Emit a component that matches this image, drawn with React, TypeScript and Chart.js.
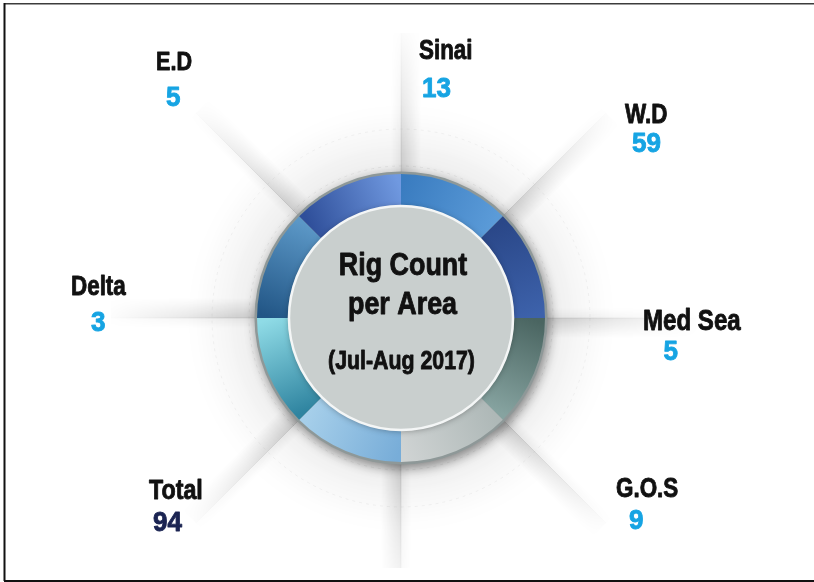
import React, { useEffect, useRef } from "react";
import { Chart, registerables } from "chart.js";

Chart.register(...registerables);

// ---- data ----
const areaNames = ["Sinai", "W.D", "Med Sea", "G.O.S", "Total", "Delta", "E.D"];
const rigCounts = [13, 59, 5, 9, 94, 3, 5];
const ringSliceWeights = [1, 1, 1, 1, 1, 1, 1, 1];
const centerTitleLines = ["Rig Count", "per Area", "(Jul-Aug 2017)"];

// ---- styles / layout ----
const sliceColorStart = ["#3a7cc0", "#2a4788", "#4a6561", "#aeb8b7", "#78add8", "#2f84a0", "#225686", "#2f4f9a"];
const sliceColorEnd = ["#5b9bd8", "#3d62ab", "#86a3a0", "#cfd3d3", "#a6cfea", "#8fdbe6", "#5b97c6", "#7099e0"];
// label offsets relative to ring centre: [nameDx, nameDy, valueDx, valueDy, nameSize]
const labelOffsets: number[][] = [
  [18, -259, 21, -221, 27],
  [224, -195.5, 231, -166, 27],
  [242, 12, 262.5, 42, 29],
  [215, 179, 228, 211, 27],
  [-252, 181, -248, 213, 28],
  [-330, -23, -310, 13, 27],
  [-245, -248.5, -235, -212, 26],
];
const valueColors = ["#16a4e3", "#16a4e3", "#16a4e3", "#16a4e3", "#1b2452", "#16a4e3", "#16a4e3"];
const spokeLengths = [285, 290, 295, 290, 250, 290, 290, 290];

const FONT = '"Liberation Sans", Arial, "DejaVu Sans", sans-serif';

function drawText(ctx: CanvasRenderingContext2D, text: string, x: number, y: number, size: number, color: string, scaleX: number, align: CanvasTextAlign) {
  ctx.save();
  ctx.translate(x, y);
  ctx.scale(scaleX, 1);
  ctx.font = `bold ${size}px ${FONT}`;
  ctx.fillStyle = color;
  ctx.strokeStyle = color;
  ctx.lineWidth = 0.9;
  ctx.lineJoin = "round";
  ctx.textAlign = align;
  ctx.textBaseline = "alphabetic";
  ctx.fillText(text, 0, 0);
  ctx.strokeText(text, 0, 0);
  ctx.restore();
}

function ringGeom(chart: any) {
  const a = chart.chartArea;
  const cx = (a.left + a.right) / 2;
  const cy = (a.top + a.bottom) / 2;
  const r = Math.min(a.right - a.left, a.bottom - a.top) / 2;
  return { cx, cy, r };
}

const decorPlugin = {
  id: "decor",
  beforeDraw(chart: any) {
    const ctx: CanvasRenderingContext2D = chart.ctx;
    const W = chart.width, H = chart.height;
    const { cx, cy, r } = ringGeom(chart);
    ctx.save();
    ctx.fillStyle = "#ffffff";
    ctx.fillRect(0, 0, W, H);

    const off = document.createElement("canvas");
    off.width = W; off.height = H;
    const o = off.getContext("2d") as CanvasRenderingContext2D;
    const halo = o.createRadialGradient(cx, cy, r, cx, cy, r + 70);
    halo.addColorStop(0, "rgba(0,0,0,0.07)");
    halo.addColorStop(1, "rgba(0,0,0,0)");
    o.fillStyle = halo;
    o.beginPath(); o.arc(cx, cy, r + 70, 0, Math.PI * 2); o.fill();
    for (let i = 0; i < 8; i++) {
      const a = (i * 45 * Math.PI) / 180;
      const dx = Math.sin(a), dy = -Math.cos(a);
      const px = Math.cos(a), py = Math.sin(a);
      const L = spokeLengths[i];
      const w = 20;
      const g = o.createLinearGradient(cx, cy, cx + px * w, cy + py * w);
      g.addColorStop(0, "rgba(0,0,0,0.15)");
      g.addColorStop(1, "rgba(0,0,0,0)");
      o.fillStyle = g;
      o.beginPath();
      o.moveTo(cx, cy);
      o.lineTo(cx + dx * L, cy + dy * L);
      o.lineTo(cx + dx * L + px * w, cy + dy * L + py * w);
      o.lineTo(cx + px * w, cy + py * w);
      o.closePath();
      o.fill();
      const g2 = o.createLinearGradient(cx, cy, cx - px * 10, cy - py * 10);
      g2.addColorStop(0, "rgba(0,0,0,0.06)");
      g2.addColorStop(1, "rgba(0,0,0,0)");
      o.fillStyle = g2;
      o.beginPath();
      o.moveTo(cx, cy);
      o.lineTo(cx + dx * L, cy + dy * L);
      o.lineTo(cx + dx * L - px * 10, cy + dy * L - py * 10);
      o.lineTo(cx - px * 10, cy - py * 10);
      o.closePath();
      o.fill();
      o.strokeStyle = "rgba(0,0,0,0.09)";
      o.lineWidth = 1;
      o.beginPath();
      o.moveTo(cx, cy);
      o.lineTo(cx + dx * L, cy + dy * L);
      o.stroke();
    }
    o.setLineDash([3, 4]);
    o.strokeStyle = "rgba(0,0,0,0.06)";
    o.beginPath(); o.arc(cx, cy, r + 8, 0, Math.PI * 2); o.stroke();
    o.beginPath(); o.arc(cx, cy, r + 45, 0, Math.PI * 2); o.stroke();
    o.setLineDash([]);
    o.globalCompositeOperation = "destination-in";
    const mask = o.createRadialGradient(cx, cy, 0, cx, cy, 300);
    mask.addColorStop(0, "rgba(0,0,0,1)");
    mask.addColorStop(0.55, "rgba(0,0,0,1)");
    mask.addColorStop(1, "rgba(0,0,0,0)");
    o.fillStyle = mask;
    o.fillRect(0, 0, W, H);
    ctx.drawImage(off, 0, 0);

    // frame
    ctx.fillStyle = "#3c3c3c";
    ctx.fillRect(4, 3, W - 4, 1.5);
    ctx.fillStyle = "#111111";
    ctx.fillRect(3.5, 3, 2, 578);
    ctx.fillRect(4, 580, W - 4, 2);
    ctx.restore();
  },
  beforeDatasetsDraw(chart: any) {
    const ctx: CanvasRenderingContext2D = chart.ctx;
    const { cx, cy, r } = ringGeom(chart);
    ctx.save();
    ctx.shadowColor = "rgba(0,0,0,0.45)";
    ctx.shadowBlur = 12;
    ctx.shadowOffsetX = 2;
    ctx.shadowOffsetY = 4;
    ctx.fillStyle = "#8e9898";
    ctx.beginPath(); ctx.arc(cx, cy, r + 2.5, 0, Math.PI * 2); ctx.fill();
    ctx.restore();
  },
  afterDatasetsDraw(chart: any) {
    const ctx: CanvasRenderingContext2D = chart.ctx;
    const { cx, cy, r } = ringGeom(chart);
    const ir = r * 0.778;
    ctx.save();
    ctx.shadowColor = "rgba(0,0,0,0.35)";
    ctx.shadowBlur = 6;
    ctx.shadowOffsetY = 1;
    ctx.fillStyle = "#c9cfce";
    ctx.beginPath(); ctx.arc(cx, cy, ir, 0, Math.PI * 2); ctx.fill();
    ctx.shadowColor = "rgba(0,0,0,0)";
    ctx.strokeStyle = "#f4f6f6";
    ctx.lineWidth = 2.5;
    ctx.beginPath(); ctx.arc(cx, cy, ir, 0, Math.PI * 2); ctx.stroke();
    ctx.restore();

    drawText(ctx, centerTitleLines[0], cx + 2, cy - 43, 32, "#111111", 0.84, "center");
    drawText(ctx, centerTitleLines[1], cx + 1.5, cy - 4, 32, "#111111", 0.84, "center");
    drawText(ctx, centerTitleLines[2], cx + 0.5, cy + 51, 26, "#111111", 0.82, "center");

    for (let i = 0; i < areaNames.length; i++) {
      const [nx, ny, vx, vy, ns] = labelOffsets[i];
      drawText(ctx, areaNames[i], cx + nx, cy + ny, ns, "#111111", 0.83, "left");
      drawText(ctx, String(rigCounts[i]), cx + vx, cy + vy, 28, valueColors[i], 0.93, "left");
    }
  },
};

export default function App() {
  const ref = useRef<HTMLCanvasElement | null>(null);
  useEffect(() => {
    if (!ref.current) return;
    const chart = new Chart(ref.current, {
      type: "doughnut",
      data: {
        labels: ringSliceWeights.map((_, i) => `slice ${i + 1}`),
        datasets: [
          {
            data: ringSliceWeights,
            borderWidth: 0,
            backgroundColor: (c: any) => {
              const ch = c.chart;
              const i = c.dataIndex;
              if (!ch.chartArea) return sliceColorStart[i];
              const { cx, cy, r } = ringGeom(ch);
              const a0 = ((-90 + i * 45) * Math.PI) / 180;
              const a1 = ((-90 + (i + 1) * 45) * Math.PI) / 180;
              const rr = r * 0.9;
              const g = ch.ctx.createLinearGradient(
                cx + Math.cos(a0) * rr, cy + Math.sin(a0) * rr,
                cx + Math.cos(a1) * rr, cy + Math.sin(a1) * rr
              );
              g.addColorStop(0, sliceColorStart[i]);
              g.addColorStop(1, sliceColorEnd[i]);
              return g;
            },
          },
        ],
      },
      options: {
        animation: false,
        responsive: false,
        devicePixelRatio: 1,
        cutout: "74%",
        layout: { padding: { left: 257, right: 269, top: 174, bottom: 120 } },
        plugins: { legend: { display: false }, tooltip: { enabled: false } },
        events: [],
      },
      plugins: [decorPlugin],
    });
    return () => chart.destroy();
  }, []);
  return (
    <div style={{ position: "absolute", left: 0, top: 0, width: 814, height: 582 }}>
      <canvas ref={ref} width={814} height={582} style={{ display: "block" }} />
    </div>
  );
}
